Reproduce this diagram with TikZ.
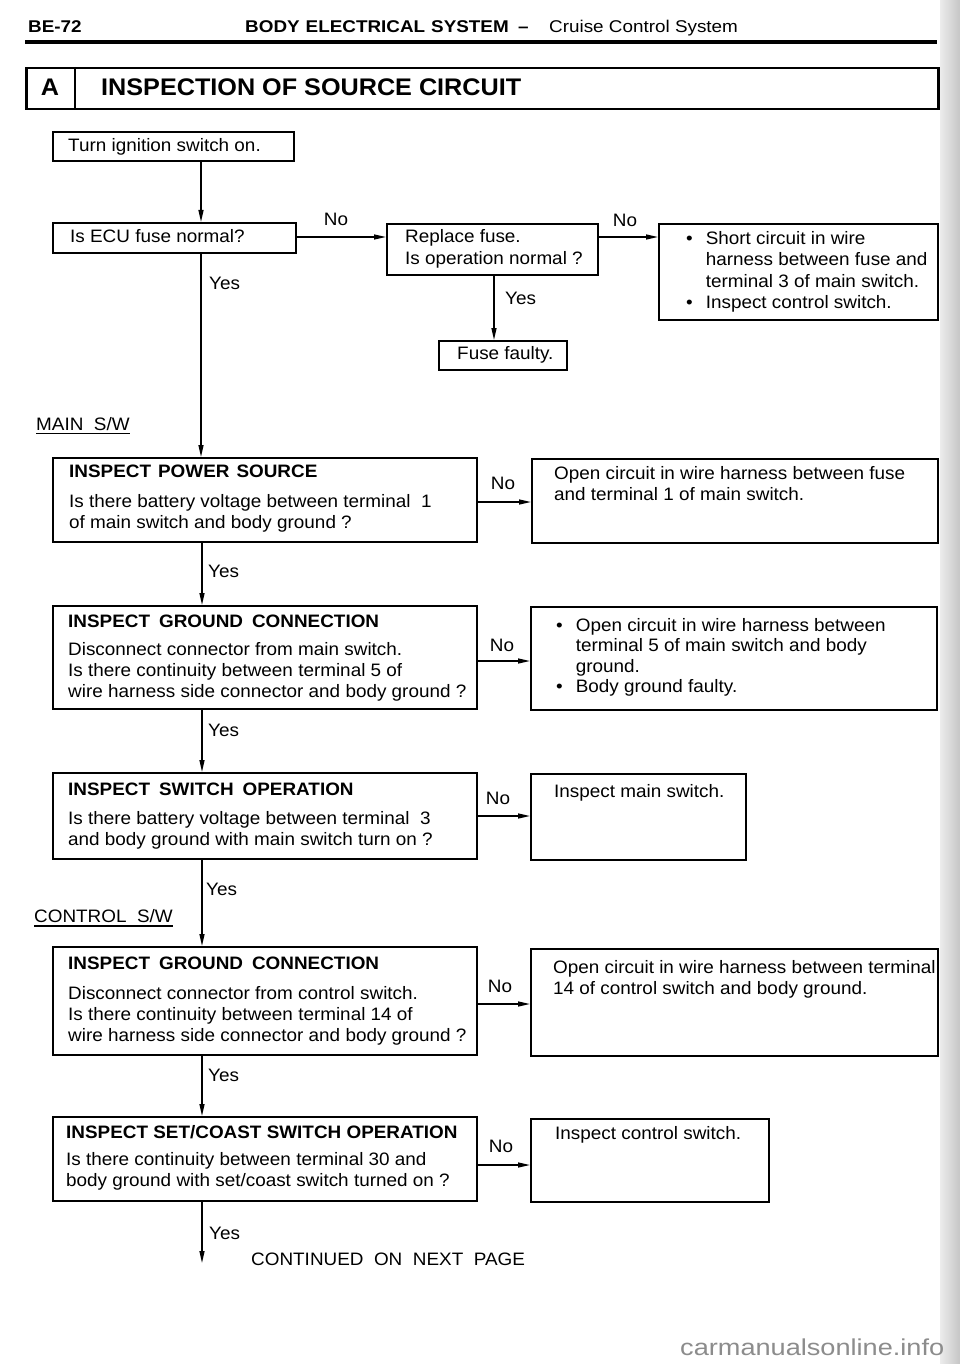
\documentclass[tikz,border=0pt]{standalone}
\usepackage{fontspec}
\setmainfont[FakeStretch=1.05]{Liberation Sans}
\newfontfamily\hdrfont[FakeStretch=1.11]{Liberation Sans}
\newfontfamily\wmfont[FakeStretch=1.18]{Liberation Sans}
\usetikzlibrary{arrows.meta,calc}
\newcommand\bodysize{\fontsize{18}{21}\selectfont}
\newcommand\titlesize{\fontsize{18}{21}\selectfont\bfseries}
\newcommand\headsize{\fontsize{24}{28}\selectfont\bfseries}
\newcommand\mlines[2][21]{{\fontsize{18}{#1}\selectfont\parbox[t]{440pt}{\raggedright #2}}}
\newcommand\blist[2][21]{{\fontsize{18}{#1}\selectfont\begin{tabular}[t]{@{}l@{\hspace{13pt}}l@{}}#2\end{tabular}}}
\tikzset{
  box/.style={draw, line width=1.8pt, inner sep=0pt, anchor=north west},
  txt/.style={anchor=base west, inner sep=0pt, font=\bodysize},
  ttl/.style={anchor=base west, inner sep=0pt, font=\titlesize},
  lbl/.style={anchor=center, inner sep=0pt, font=\bodysize},
  ylbl/.style={anchor=west, inner sep=0pt, font=\bodysize},
  arr/.style={line width=1.4pt, -{Triangle[length=12pt,width=5pt]}},
  ul/.style={line width=1.2pt}
}
\begin{document}
\begin{tikzpicture}[x=1pt,y=-1pt]
\fill[white] (0,0) rectangle (960,1364);
\useasboundingbox (0,0) rectangle (960,1364);
\shade[left color=gray!15, right color=gray!45] (940,0) rectangle (960,1364);

% page header
\node[anchor=base west, inner sep=0pt, font={\hdrfont\fontsize{17}{19}\selectfont\bfseries}] (pg) at (28,33) {BE-72};
\node[anchor=base west, inner sep=0pt, font={\hdrfont\fontsize{17}{19}\selectfont\bfseries}] (hdr) at (245,33)
  {BODY\hspace{6pt}ELECTRICAL\hspace{6pt}SYSTEM};
\node[anchor=base west, inner sep=0pt, font={\hdrfont\fontsize{17}{19}\selectfont\bfseries}] (hdrd) at (518,33) {\textendash};
\node[anchor=base west, inner sep=0pt, font={\hdrfont\fontsize{17}{19}\selectfont}] (hdrs) at (549,33) {Cruise Control System};
\draw[line width=3.5pt] (25,42) -- (937,42);

% section box
\node[draw, line width=2.5pt, inner sep=0pt, anchor=north west, minimum width=912, minimum height=41] (secA) at (25,67) {};
\coordinate (dv) at (75,0);
\draw[line width=2.5pt] (secA.north -| dv) -- (secA.south -| dv);
\node[anchor=base, inner sep=0pt, font=\headsize] (secAl) at (50,96) {A};
\node[anchor=base west, inner sep=0pt, font=\headsize] (secAt) at (101,96) {INSPECTION OF SOURCE CIRCUIT};

% boxes
\node[box, minimum width=241, minimum height=29] (ti) at (52,131) {};
\node[box, minimum width=243, minimum height=30] (ecu) at (52,222) {};
\node[box, minimum width=211, minimum height=51] (rep) at (386,223) {};
\node[box, minimum width=279, minimum height=96] (sc) at (658,223) {};
\node[box, minimum width=128, minimum height=29] (ff) at (438,340) {};
\node[box, minimum width=424, minimum height=84] (ps) at (52,457) {};
\node[box, minimum width=406, minimum height=84] (r1) at (531,458) {};
\node[box, minimum width=424, minimum height=103] (g1) at (52,605) {};
\node[box, minimum width=406, minimum height=103] (r2) at (530,606) {};
\node[box, minimum width=424, minimum height=86] (sw) at (52,772) {};
\node[box, minimum width=215, minimum height=86] (r3) at (530,773) {};
\node[box, minimum width=424, minimum height=108] (g2) at (52,946) {};
\node[box, minimum width=407, minimum height=107] (r4) at (530,948) {};
\node[box, minimum width=424, minimum height=84] (scs) at (52,1116) {};
\node[box, minimum width=238, minimum height=83] (r5) at (530,1118) {};

% box texts
\node[txt] (tiT) at (68,152) {Turn ignition switch on.};
\node[txt] (ecuT) at (70,243) {Is ECU fuse normal?};
\node[txt] (repT) at (405,243) {\mlines[22]{Replace fuse.\\Is operation normal ?}};
\node[txt] (scT) at (686,244) {\blist[21.5]{\textbullet & Short circuit in wire\\ & harness between fuse and\\ & terminal 3 of main switch.\\ \textbullet & Inspect control switch.}};
\node[txt] (ffT) at (457,359) {Fuse faulty.};

\node[ttl] (psH) at (69,477.5) {INSPECT\hspace{7pt}POWER\hspace{7pt}SOURCE};
\node[txt] (psT) at (69,507) {\mlines{Is there battery voltage between terminal\ \ 1\\of main switch and body ground ?}};
\node[txt] (r1T) at (554,479) {\mlines{Open circuit in wire harness between fuse\\and terminal 1 of main switch.}};

\node[ttl] (g1H) at (68,627) {INSPECT\hspace{9pt}GROUND\hspace{9pt}CONNECTION};
\node[txt] (g1T) at (68,655) {\mlines{Disconnect connector from main switch.\\Is there continuity between terminal 5 of\\wire harness side connector and body ground ?}};
\node[txt] (r2T) at (556,631) {\blist[20.5]{\textbullet & Open circuit in wire harness between\\ & terminal 5 of main switch and body\\ & ground.\\ \textbullet & Body ground faulty.}};

\node[ttl] (swH) at (68,795) {INSPECT\hspace{9pt}SWITCH\hspace{9pt}OPERATION};
\node[txt] (swT) at (68,824) {\mlines{Is there battery voltage between terminal\ \ 3\\and body ground with main switch turn on ?}};
\node[txt] (r3T) at (554,797) {Inspect main switch.};

\node[ttl] (g2H) at (68,969) {INSPECT\hspace{9pt}GROUND\hspace{9pt}CONNECTION};
\node[txt] (g2T) at (68,999) {\mlines{Disconnect connector from control switch.\\Is there continuity between terminal 14 of\\wire harness side connector and body ground ?}};
\node[txt] (r4T) at (553,973) {\mlines{Open circuit in wire harness between terminal\\14 of control switch and body ground.}};

\node[ttl] (scsH) at (66,1138) {INSPECT SET/COAST SWITCH OPERATION};
\node[txt] (scsT) at (66,1165) {\mlines{Is there continuity between terminal 30 and\\body ground with set/coast switch turned on ?}};
\node[txt] (r5T) at (555,1139) {Inspect control switch.};

% side labels
\node[txt] (mainsw) at (36,430) {MAIN\ \ S/W};
\draw[ul] ([yshift=-3.5pt]mainsw.base west) -- ([yshift=-3.5pt]mainsw.base east);
\node[txt] (ctrlsw) at (34,922) {CONTROL\ \ S/W};
\draw[ul] ([yshift=-4pt]ctrlsw.base west) -- ([yshift=-4pt]ctrlsw.base east);

% trunk connectors
\coordinate (tx) at (201,0);
\coordinate (tx2) at (202,0);
\coordinate (cont) at (202,1263);
\draw[arr] (ti.south -| tx) -- (ecu.north -| tx);
\draw[arr] (ecu.south -| tx) -- (ps.north -| tx);
\draw[arr] (ps.south -| tx2) -- (g1.north -| tx2);
\draw[arr] (g1.south -| tx2) -- (sw.north -| tx2);
\draw[arr] (sw.south -| tx2) -- (g2.north -| tx2);
\draw[arr] (g2.south -| tx2) -- (scs.north -| tx2);
\draw[arr] (scs.south -| cont) -- (cont);

% fuse branch
\coordinate (n1) at (0,237);
\coordinate (yx) at (494,0);
\draw[arr] (ecu.east |- n1) -- (rep.west |- n1);
\draw[arr] (rep.east |- n1) -- (sc.west |- n1);
\draw[arr] (rep.south -| yx) -- (ff.north -| yx);

% No branches
\coordinate (n2) at (0,502);
\coordinate (n3) at (0,661);
\coordinate (n4) at (0,816);
\coordinate (n5) at (0,1004);
\coordinate (n6) at (0,1165);
\draw[arr] (ps.east |- n2) -- (r1.west |- n2);
\draw[arr] (g1.east |- n3) -- (r2.west |- n3);
\draw[arr] (sw.east |- n4) -- (r3.west |- n4);
\draw[arr] (g2.east |- n5) -- (r4.west |- n5);
\draw[arr] (scs.east |- n6) -- (r5.west |- n6);

% Yes / No labels
\node[lbl] (no1) at (336,219) {No};
\node[lbl] (no2) at (625,220) {No};
\node[lbl] (no3) at (503,483) {No};
\node[lbl] (no4) at (502,645) {No};
\node[lbl] (no5) at (498,798) {No};
\node[lbl] (no6) at (500,986) {No};
\node[lbl] (no7) at (501,1146) {No};
\node[ylbl] (yes1) at (209,283) {Yes};
\node[ylbl] (yes2) at (505,298) {Yes};
\node[ylbl] (yes3) at (208,571) {Yes};
\node[ylbl] (yes4) at (208,730) {Yes};
\node[ylbl] (yes5) at (206,889) {Yes};
\node[ylbl] (yes6) at (208,1075) {Yes};
\node[ylbl] (yes7) at (209,1233) {Yes};

\node[txt] (contT) at (251,1265) {CONTINUED\ \ ON\ \ NEXT\ \ PAGE};

\node[anchor=base west, inner sep=0pt, text=black!45, font={\wmfont\fontsize{23}{26}\selectfont}] (wm) at (680,1355) {carmanualsonline.info};
\end{tikzpicture}
\end{document}
